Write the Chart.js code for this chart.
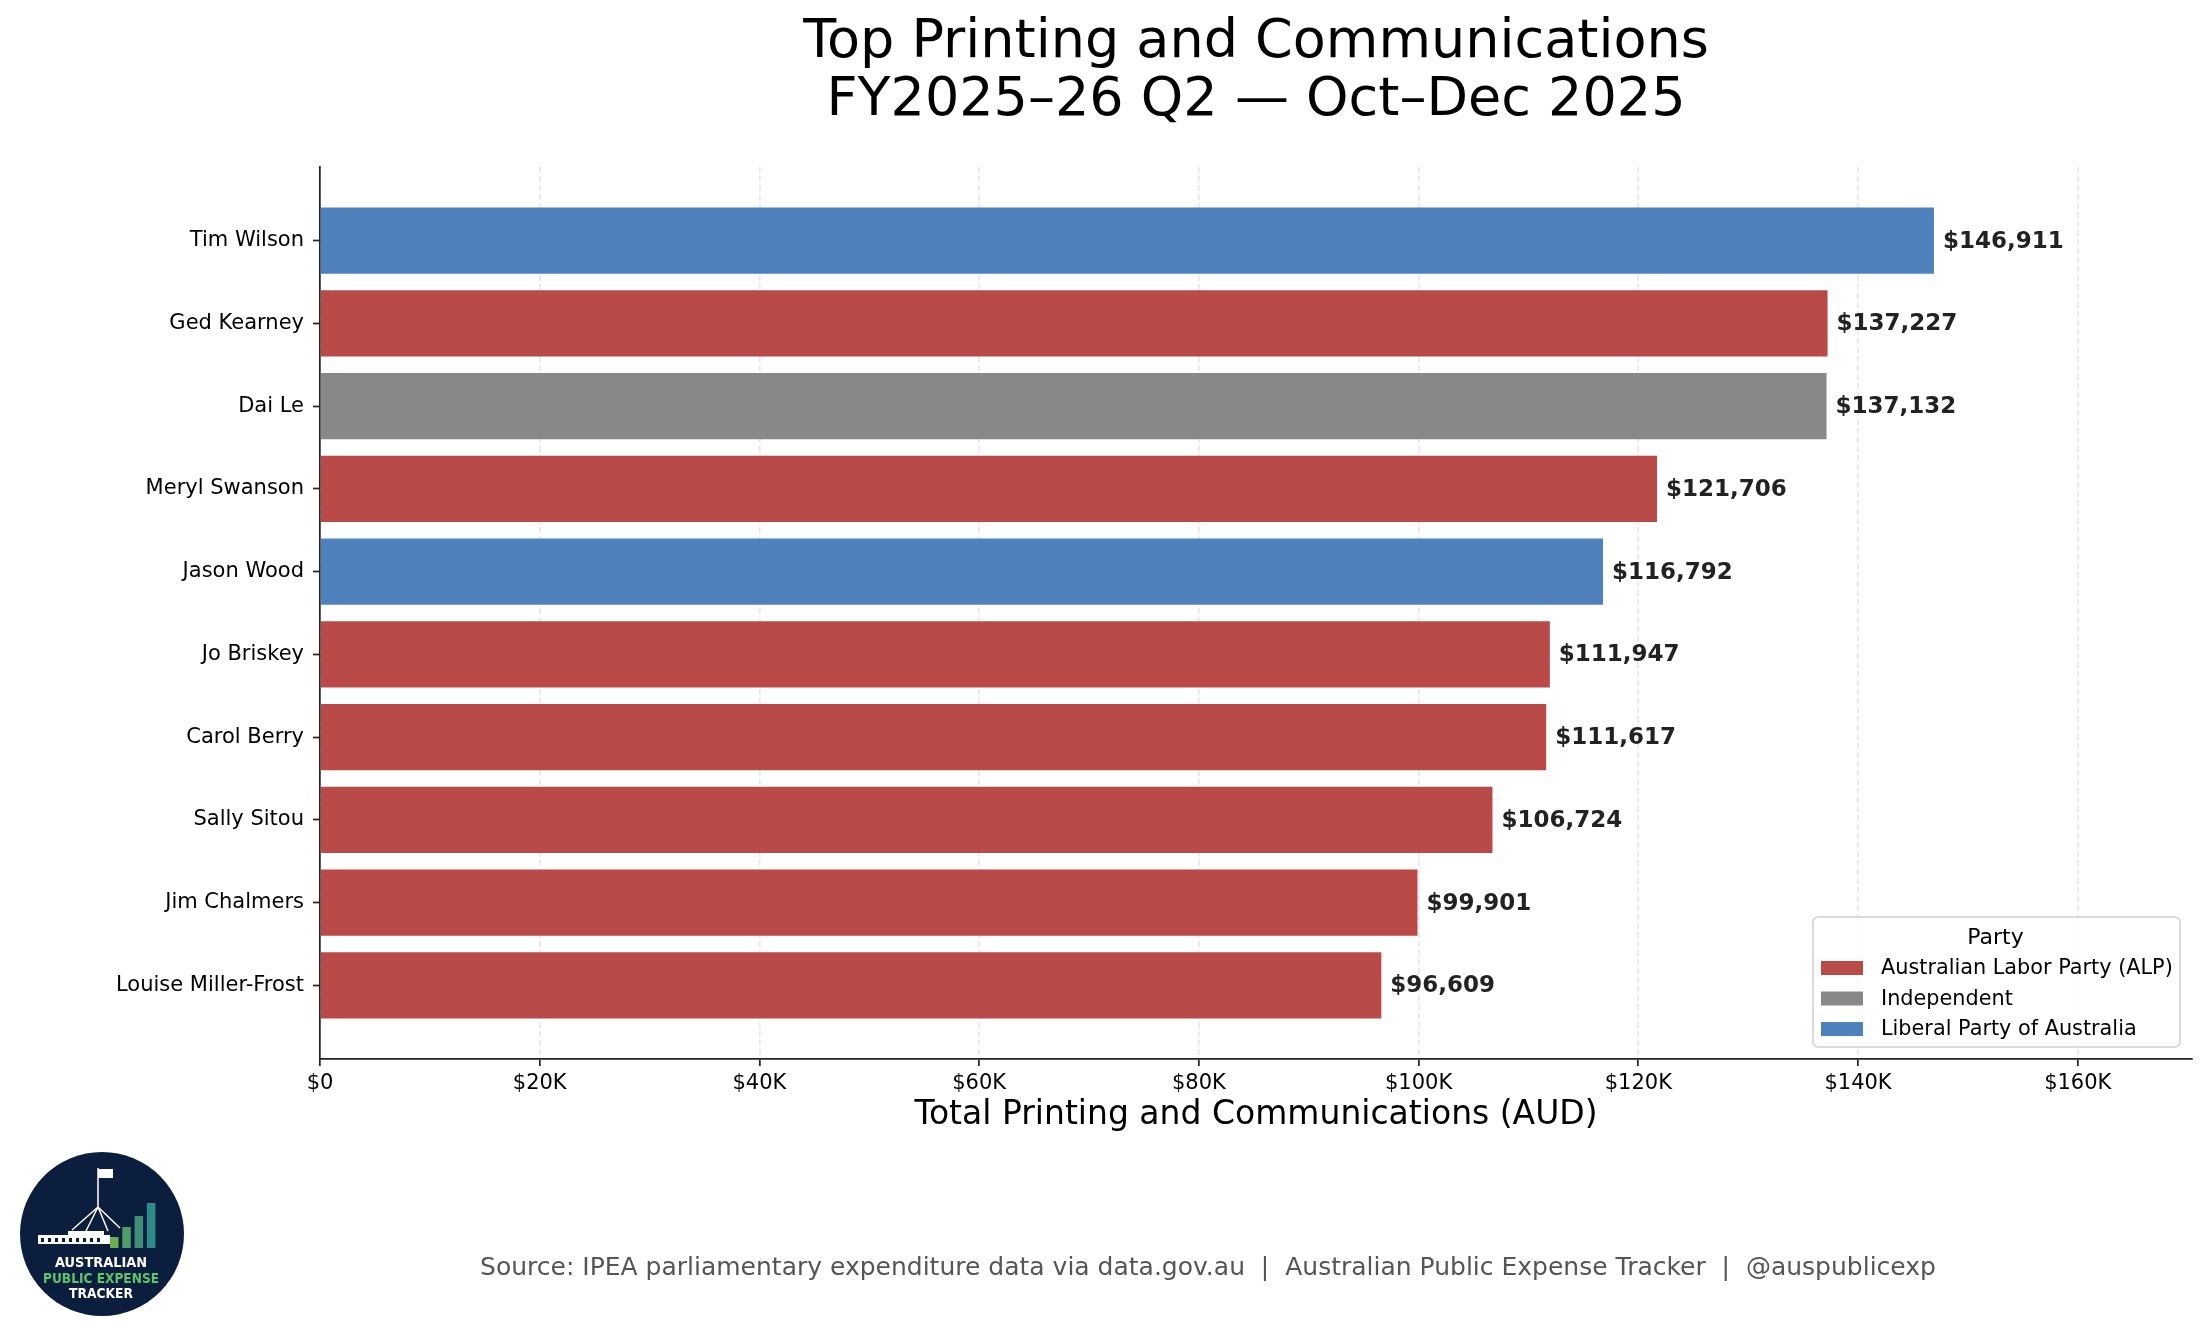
<!DOCTYPE html>
<html>
<head>
<meta charset="utf-8">
<title>Top Printing and Communications</title>
<script src="https://cdn.jsdelivr.net/npm/chart.js@4.4.1/dist/chart.umd.min.js"></script>
<style>
  html, body { margin: 0; padding: 0; background: #fff; }
  #wrap { width: 2205px; height: 1337px; position: relative; }
</style>
</head>
<body>
<div id="wrap"><canvas id="chart"></canvas></div>
<script>
// data
var names = ['Tim Wilson', 'Ged Kearney', 'Dai Le', 'Meryl Swanson', 'Jason Wood',
             'Jo Briskey', 'Carol Berry', 'Sally Sitou', 'Jim Chalmers', 'Louise Miller-Frost'];
var totals = [146911, 137227, 137132, 121706, 116792, 111947, 111617, 106724, 99901, 96609];
var parties = ['Liberal Party of Australia', 'Australian Labor Party (ALP)', 'Independent',
               'Australian Labor Party (ALP)', 'Liberal Party of Australia',
               'Australian Labor Party (ALP)', 'Australian Labor Party (ALP)',
               'Australian Labor Party (ALP)', 'Australian Labor Party (ALP)',
               'Australian Labor Party (ALP)'];
var legendParties = ['Australian Labor Party (ALP)', 'Independent', 'Liberal Party of Australia'];
var xTickValues = [0, 20000, 40000, 60000, 80000, 100000, 120000, 140000, 160000];
var xTickLabels = ['$0', '$20K', '$40K', '$60K', '$80K', '$100K', '$120K', '$140K', '$160K'];

var titleLines = ['Top Printing and Communications', 'FY2025\u201326 Q2 \u2014 Oct\u2013Dec 2025'];
var xTitle = 'Total Printing and Communications (AUD)';
var sourceText = 'Source: IPEA parliamentary expenditure data via data.gov.au  |  Australian Public Expense Tracker  |  @auspublicexp';
var logoLines = ['AUSTRALIAN', 'PUBLIC EXPENSE', 'TRACKER'];

var partyColors = {
    'Australian Labor Party (ALP)': '#B94A48',
    'Independent': '#888888',
    'Liberal Party of Australia': '#4F81BD'
};

var FONT = '"DejaVu Sans", sans-serif';

var points = [];
for (var i in totals) {
    points.push({ x: totals[i], y: Number(i) });
}

var extras = {
    id: 'extras',
    afterDraw: function (chart) {
        var ctx = chart.ctx;
        var area = chart.chartArea;
        var xs = chart.scales.x;
        var ys = chart.scales.y;

        // value labels
        ctx.save();
        ctx.font = 'bold 23px ' + FONT;
        ctx.fillStyle = '#222222';
        ctx.textAlign = 'left';
        ctx.textBaseline = 'middle';
        for (var i = 0; i < totals.length; i++) {
            var px = xs.getPixelForValue(totals[i]) + 9;
            var py = ys.getPixelForValue(i);
            ctx.fillText('$' + totals[i].toLocaleString('en-US'), px, py + 1);
        }
        ctx.restore();

        // title centred over the axes
        ctx.save();
        ctx.font = '54px ' + FONT;
        ctx.fillStyle = '#000';
        ctx.textAlign = 'center';
        ctx.textBaseline = 'alphabetic';
        var cx = (area.left + area.right) / 2;
        ctx.fillText(titleLines[0], cx, 57);
        ctx.fillText(titleLines[1], cx, 115);
        ctx.restore();

        // legend
        ctx.save();
        var bx = area.right - 379, by = area.bottom - 142, bw = 367, bh = 130;
        ctx.fillStyle = 'rgba(255,255,255,0.8)';
        ctx.strokeStyle = '#d0d0d0';
        ctx.lineWidth = 1.5;
        ctx.beginPath();
        ctx.roundRect(bx, by, bw, bh, 5);
        ctx.fill();
        ctx.stroke();
        ctx.fillStyle = '#000';
        ctx.textAlign = 'center';
        ctx.textBaseline = 'middle';
        ctx.font = '22px ' + FONT;
        ctx.fillText('Party', bx + bw / 2 - 1, by + 21);
        ctx.font = '20.8px ' + FONT;
        ctx.textAlign = 'left';
        for (var k = 0; k < legendParties.length; k++) {
            var ry = by + 51 + k * 30.5;
            ctx.fillStyle = partyColors[legendParties[k]];
            ctx.fillRect(bx + 8, ry - 7, 42, 14);
            ctx.fillStyle = '#000';
            ctx.fillText(legendParties[k], bx + 68, ry + 1);
        }
        ctx.restore();

        // source line
        ctx.save();
        ctx.font = '25px ' + FONT;
        ctx.fillStyle = '#555555';
        ctx.textAlign = 'center';
        ctx.textBaseline = 'middle';
        ctx.fillText(sourceText, 1208, 1268);
        ctx.restore();

        // logo badge
        ctx.save();
        var lx = 102, ly = 1234, lr = 82;
        ctx.fillStyle = '#0C1E3E';
        ctx.beginPath();
        ctx.arc(lx, ly, lr, 0, Math.PI * 2);
        ctx.fill();
        // building
        ctx.fillStyle = '#ffffff';
        ctx.fillRect(38, 1235, 72, 9);
        ctx.fillRect(68, 1231, 36, 4);
        ctx.fillStyle = '#0C1E3E';
        for (var w = 0; w < 9; w++) {
            ctx.fillRect(41 + w * 7, 1238, 3, 4);
        }
        ctx.strokeStyle = '#ffffff';
        ctx.lineWidth = 1.5;
        ctx.beginPath();
        ctx.moveTo(98, 1168); ctx.lineTo(98, 1207);
        ctx.moveTo(98, 1207); ctx.lineTo(72, 1230);
        ctx.moveTo(98, 1207); ctx.lineTo(86, 1231);
        ctx.moveTo(98, 1207); ctx.lineTo(108, 1231);
        ctx.moveTo(98, 1207); ctx.lineTo(120, 1228);
        ctx.stroke();
        ctx.fillStyle = '#ffffff';
        ctx.fillRect(98, 1169, 15, 9);
        // little bars
        var barCols = ['#6AB04C', '#4E9E68', '#3F8F76', '#2C8C8C'];
        var barTops = [1237, 1227, 1216, 1203];
        for (var b = 0; b < 4; b++) {
            ctx.fillStyle = barCols[b];
            ctx.fillRect(110 + b * 12.3, barTops[b], 8.5, 1248 - barTops[b]);
        }
        ctx.textAlign = 'center';
        ctx.textBaseline = 'middle';
        ctx.font = 'bold 14px ' + FONT;
        ctx.fillStyle = '#ffffff';
        ctx.fillText(logoLines[0], 101, 1263, 92);
        ctx.fillStyle = '#5CC46A';
        ctx.fillText(logoLines[1], 101, 1279, 116);
        ctx.fillStyle = '#ffffff';
        ctx.fillText(logoLines[2], 101, 1294, 64);
        ctx.restore();
    }
};

var chart = new Chart(document.getElementById('chart'), {
    type: 'bar',
    data: {
        datasets: [{
            label: 'Total',
            data: points,
            backgroundColor: parties.map(function (p) { return partyColors[p]; }),
            borderWidth: 0,
            barPercentage: 0.8,
            categoryPercentage: 1.0
        }]
    },
    options: {
        indexAxis: 'y',
        responsive: true,
        maintainAspectRatio: false,
        animation: false,
        devicePixelRatio: 1,
        layout: { padding: { top: 167, right: 13, bottom: 202, left: 0 } },
        plugins: {
            legend: { display: false },
            tooltip: { enabled: false },
            title: { display: false }
        },
        scales: {
            x: {
                type: 'linear',
                position: 'bottom',
                bounds: 'data',
                min: 0,
                max: 170400,
                offset: false,
                z: 1,
                afterBuildTicks: function (scale) {
                    scale.ticks = xTickValues.map(function (v) { return { value: v }; });
                },
                afterFit: function (scale) { scale.height = 76; },
                ticks: {
                    padding: 5,
                    color: '#000',
                    font: { family: FONT, size: 21 },
                    maxRotation: 0,
                    autoSkip: false,
                    callback: function (v, i) { return xTickLabels[i]; }
                },
                grid: {
                    offset: false,
                    color: 'rgba(176,176,176,0.3)',
                    lineWidth: 1.7,
                    drawTicks: true,
                    tickLength: 7,
                    tickColor: '#222',
                    tickWidth: 1.7
                },
                border: { display: true, color: '#222', width: 1.7, dash: [6, 3] },
                title: {
                    display: true,
                    text: xTitle,
                    color: '#000',
                    font: { family: FONT, size: 33 },
                    padding: { top: 0, bottom: 0 }
                }
            },
            y: {
                type: 'linear',
                position: 'left',
                bounds: 'data',
                reverse: true,
                min: -0.89,
                max: 9.89,
                offset: false,
                z: 2,
                afterBuildTicks: function (scale) {
                    scale.ticks = names.map(function (n, i) { return { value: i }; });
                },
                afterFit: function (scale) { scale.width = 320; },
                ticks: {
                    padding: 9,
                    color: '#000',
                    autoSkip: false,
                    font: { family: FONT, size: 21 },
                    callback: function (v) { return names[v]; }
                },
                grid: {
                    offset: false,
                    drawOnChartArea: false,
                    drawTicks: true,
                    tickLength: 7,
                    tickColor: '#222',
                    tickWidth: 1.7
                },
                border: { display: true, color: '#222', width: 1.7 }
            }
        }
    },
    plugins: [extras]
});
</script>
</body>
</html>
